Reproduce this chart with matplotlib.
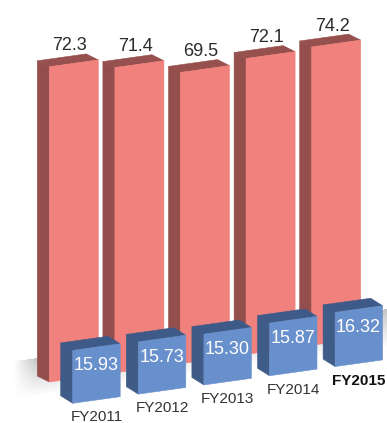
import matplotlib.pyplot as plt
import numpy as np
from matplotlib.patches import Polygon

plt.rcParams['font.family'] = ['Liberation Sans', 'DejaVu Sans']

years = ["FY2011", "FY2012", "FY2013", "FY2014", "FY2015"]
red_vals = [72.3, 71.4, 69.5, 72.1, 74.2]
blue_vals = [15.93, 15.73, 15.30, 15.87, 16.32]

# pseudo 3d layout, in pixels
W, H = 387, 423
step = 65.6
slope = 0.14           # floor rises to the right
red_x0, red_base0, red_w = 49.3, 382.0, 49.0
red_k0, red_shrink = 4.36, 0.085     # px per unit, shrinks with depth
red_depth = (-12.0, -6.0)
blue_x0, blue_base0, blue_w = 72.7, 403.3, 47.5
blue_k = 3.32
blue_depth = (-12.0, -7.5)

red_cols = ("#F0817C", "#944E4B", "#96504D")
blue_cols = ("#6890CC", "#3F5B87", "#3E5A88")


def box(ax, x, base, w, h, depth, cols, z):
    front, side, top = cols
    dx, dy = depth
    fl_b = (x, base)
    fr_b = (x + w, base - slope * w)
    fr_t = (x + w, base - slope * w - h)
    fl_t = (x, base - h)
    side_pts = [fl_t, fl_b, (fl_b[0] + dx, fl_b[1] + dy), (fl_t[0] + dx, fl_t[1] + dy)]
    top_pts = [fl_t, fr_t, (fr_t[0] + dx, fr_t[1] + dy), (fl_t[0] + dx, fl_t[1] + dy)]
    front_pts = [fl_b, fr_b, fr_t, fl_t]
    for pts, c in ((side_pts, side), (top_pts, top), (front_pts, front)):
        ax.add_patch(Polygon(pts, closed=True, facecolor=c, edgecolor=c,
                             lw=0.4, zorder=z))
    return fl_t, fr_t


fig = plt.figure(figsize=(W / 100, H / 100), dpi=100)
ax = fig.add_axes([0, 0, 1, 1])
ax.set_xlim(0, W)
ax.set_ylim(H, 0)
ax.axis('off')

# floor shading
xx, yy = np.meshgrid(np.arange(W) + 0.5, np.arange(H) + 0.5)
y_top = (red_base0 + red_depth[1]) - slope * (xx - red_x0 - red_depth[0]) - 18
alpha = np.clip(1 - (yy - y_top) / 38.0, 0, 1) * (yy > y_top)
alpha *= np.clip((xx - 14) / 22.0, 0, 1) * 0.45
img = np.zeros((H, W, 4))
img[..., :3] = 0.5
img[..., 3] = alpha
ax.imshow(img, extent=(0, W, H, 0), zorder=0, interpolation='bilinear')

for i, v in enumerate(red_vals):
    x = red_x0 + i * step
    base = red_base0 - slope * i * step
    h = (red_k0 - red_shrink * i) * v
    fl_t, fr_t = box(ax, x, base, red_w, h, red_depth, red_cols, 2)
    ax.text(x + red_w / 2 - 4, fr_t[1] + red_depth[1] - 3.5, f"{v:.1f}",
            ha='center', va='baseline', fontsize=13, color='#2b2b2b', zorder=5)

for i, v in enumerate(blue_vals):
    x = blue_x0 + i * step
    base = blue_base0 - slope * i * step
    h = blue_k * v
    fl_t, fr_t = box(ax, x, base, blue_w, h, blue_depth, blue_cols, 3)
    ax.text(x + blue_w / 2 - 0.5, fl_t[1] + 20, f"{v:.2f}",
            ha='center', va='baseline', fontsize=13, color='white', zorder=5)
    last = i == len(blue_vals) - 1
    ax.text(x + blue_w / 2, base - slope * blue_w / 2 + 17.5, years[i],
            ha='center', va='center', fontsize=11,
            fontweight='bold' if last else 'normal',
            color='#111111' if last else '#333333', zorder=5)

fig.savefig("out.png", dpi=100)
